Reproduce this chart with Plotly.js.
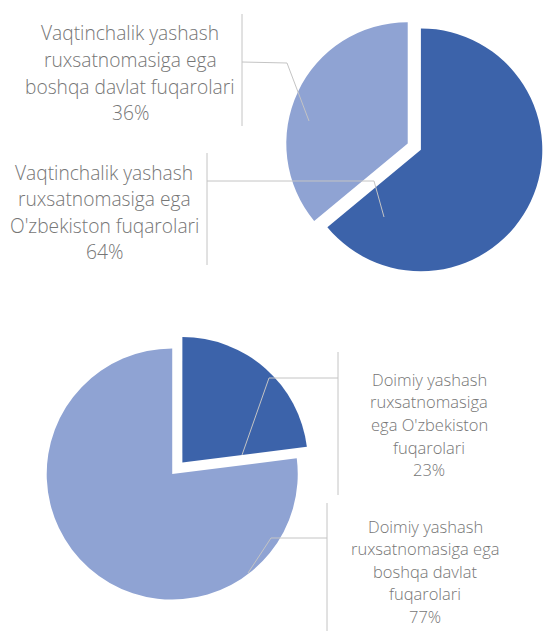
<!DOCTYPE html>
<html>
<head>
<meta charset="utf-8">
<script src="https://cdn.plot.ly/plotly-3.0.1.min.js"></script>
<style>
  html, body { margin: 0; padding: 0; background: #fff; }
  #chart { width: 543px; height: 631px; }
</style>
</head>
<body>
<div id="chart"></div>
<script>
// ---- Data ----
const topCategories = [
  "Vaqtinchalik yashash ruxsatnomasiga ega O'zbekiston fuqarolari",
  "Vaqtinchalik yashash ruxsatnomasiga ega boshqa davlat fuqarolari"
];
const topValues = [64, 36];
const topLabelLines = [
  ["Vaqtinchalik yashash", "ruxsatnomasiga ega", "O'zbekiston fuqarolari"],
  ["Vaqtinchalik yashash", "ruxsatnomasiga ega", "boshqa davlat fuqarolari"]
];

const bottomCategories = [
  "Doimiy yashash ruxsatnomasiga ega O'zbekiston fuqarolari",
  "Doimiy yashash ruxsatnomasiga ega boshqa davlat fuqarolari"
];
const bottomValues = [23, 77];
const bottomLabelLines = [
  ["Doimiy yashash", "ruxsatnomasiga", "ega O'zbekiston", "fuqarolari"],
  ["Doimiy yashash", "ruxsatnomasiga ega", "boshqa davlat", "fuqarolari"]
];

// ---- Styling / layout helpers ----
const W = 543, H = 631;
const DARK = '#3c63aa', LIGHT = '#8fa3d3';
const TEXT_COLOR = '#767676', LINE_COLOR = '#c4c4c4';
const px = x => x / W;
const py = y => 1 - y / H;

function pct(vals, i) {
  const s = vals.reduce((a, b) => a + b, 0);
  return Math.round(vals[i] / s * 100) + '%';
}

const traces = [
  {
    type: 'pie',
    labels: topCategories,
    values: topValues,
    sort: false,
    direction: 'clockwise',
    rotation: 0,
    pull: [0.06, 0.06],
    marker: { colors: [DARK, LIGHT], line: { width: 0 } },
    textinfo: 'none',
    hoverinfo: 'label+percent',
    showlegend: false,
    domain: { x: [0.526, 1.0], y: [0.5626, 0.9724] }
  },
  {
    type: 'pie',
    labels: bottomCategories,
    values: bottomValues,
    sort: false,
    direction: 'clockwise',
    rotation: 0,
    pull: [0.061, 0.061],
    marker: { colors: [DARK, LIGHT], line: { width: 0 } },
    textinfo: 'none',
    hoverinfo: 'label+percent',
    showlegend: false,
    domain: { x: [0.0812, 0.5718], y: [0.0468, 0.4689] }
  }
];

// label block placement (center x, first line y, line step, font size)
const blocks = [
  { lines: topLabelLines[1].concat([pct(topValues, 1)]), cx: 130, y0: 33, step: 26.5, size: 19.2 },
  { lines: topLabelLines[0].concat([pct(topValues, 0)]), cx: 104, y0: 172, step: 26.5, size: 19.2 },
  { lines: bottomLabelLines[0].concat([pct(bottomValues, 0)]), cx: 429, y0: 379, step: 22.7, size: 16.5 },
  { lines: bottomLabelLines[1].concat([pct(bottomValues, 1)]), cx: 425, y0: 526, step: 22.6, size: 16.5 }
];

const annotations = [];
blocks.forEach(b => {
  b.lines.forEach((t, i) => {
    annotations.push({
      xref: 'paper', yref: 'paper',
      x: px(b.cx), y: py(b.y0 + i * b.step),
      xanchor: 'center', yanchor: 'middle',
      text: t, showarrow: false,
      font: { family: 'Open Sans, sans-serif', size: b.size, color: TEXT_COLOR, weight: 300 }
    });
  });
});

// leader lines (decoration): vertical bar + elbow line
const leaders = [
  { bar: [242, 14, 126], path: [[242, 62], [287, 63], [309, 121]] },
  { bar: [207, 153, 265], path: [[207, 181], [374, 181], [384, 217]] },
  { bar: [338, 352, 495], path: [[338, 378], [269, 378], [242, 455]] },
  { bar: [327, 503, 631], path: [[327, 538], [271, 538], [248, 573]] }
];
const shapes = [];
leaders.forEach(l => {
  shapes.push({
    type: 'line', xref: 'paper', yref: 'paper',
    x0: px(l.bar[0]), x1: px(l.bar[0]), y0: py(l.bar[1]), y1: py(l.bar[2]),
    line: { color: LINE_COLOR, width: 1 }
  });
  const d = l.path.map((p, i) => (i ? 'L' : 'M') + px(p[0]) + ',' + py(p[1])).join(' ');
  shapes.push({
    type: 'path', xref: 'paper', yref: 'paper', path: d,
    line: { color: LINE_COLOR, width: 1 }
  });
});

const layout = {
  width: W, height: H,
  margin: { l: 0, r: 0, t: 0, b: 0 },
  paper_bgcolor: '#ffffff',
  plot_bgcolor: '#ffffff',
  showlegend: false,
  annotations: annotations,
  shapes: shapes
};

Plotly.newPlot('chart', traces, layout, { displayModeBar: false, staticPlot: true });
</script>
</body>
</html>
